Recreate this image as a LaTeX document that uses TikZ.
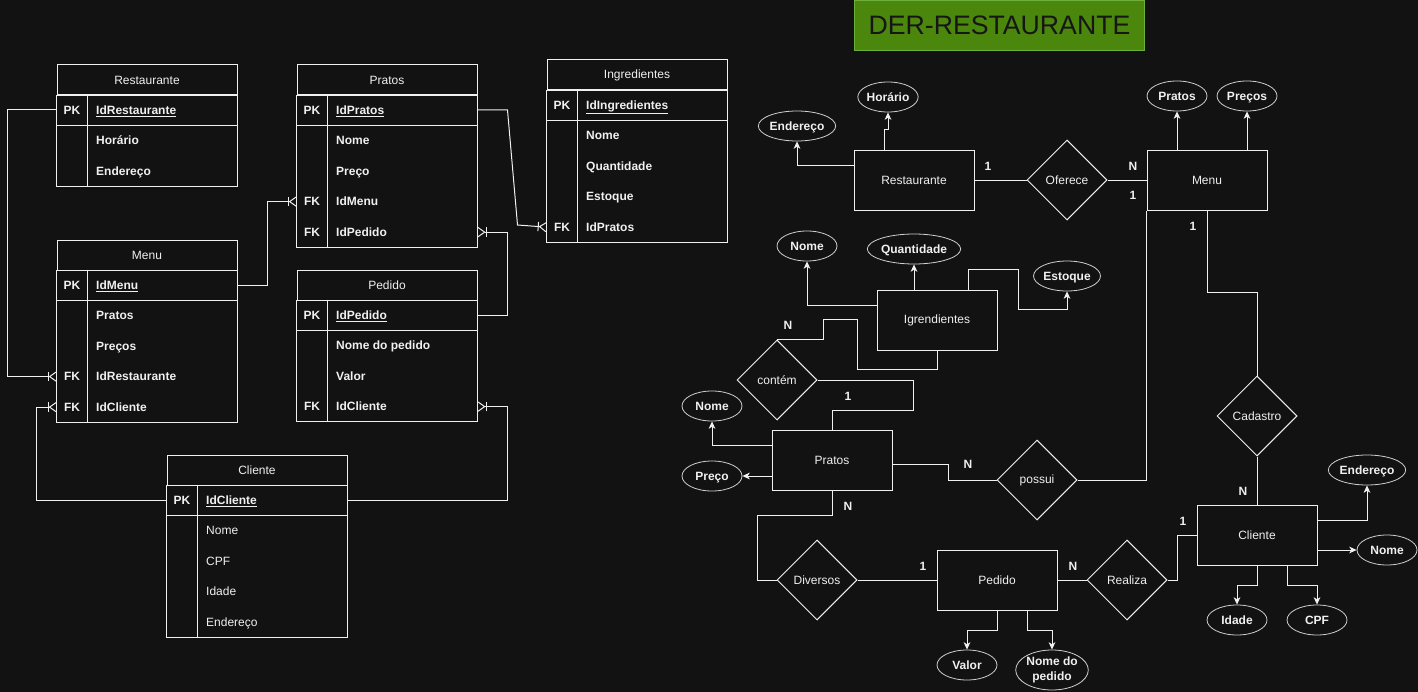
\documentclass[tikz,border=0pt]{standalone}
\usepackage{fontspec}
\setmainfont{Liberation Sans}
\usetikzlibrary{positioning,shapes.geometric,arrows.meta}

\definecolor{fundo}{HTML}{121212}
\definecolor{linha}{HTML}{F0F0F0}
\definecolor{verde}{HTML}{4B860D}
\definecolor{verdeborda}{HTML}{6DAF3C}
\definecolor{escuro}{HTML}{161616}

\tikzset{
  borda/.style={draw=linha, line width=0.75pt},
  tabtitulo/.style={draw=linha, fill=fundo, text=linha, line width=0.75pt, minimum width=135pt, minimum height=22.5pt, inner sep=0pt},
  chave/.style={text=linha, font=\bfseries, minimum width=22.5pt, minimum height=22.5pt, inner sep=0pt, text height=1.6ex, text depth=.3ex},
  campo/.style={text=linha, font=\bfseries, inner sep=0pt, text height=1.6ex, text depth=.3ex},
  rel/.style={draw=linha, line width=0.75pt},
  umparamuitos/.style={-{Bar[width=7pt,sep=0pt] Straight Barb[reversed,length=5pt,width=7pt,sep=0pt]}},
  entidade/.style={draw=linha, fill=fundo, text=linha, line width=0.75pt, minimum width=90pt, minimum height=45pt, inner sep=0pt},
  relacao/.style={diamond, aspect=1, draw=linha, fill=fundo, text=linha, line width=0.75pt, minimum width=60pt, minimum height=60pt, inner sep=0pt},
  atributo/.style={ellipse, draw=linha!85!fundo, fill=fundo, text=linha, font=\bfseries, line width=0.6pt, minimum width=45pt, minimum height=22.5pt, inner sep=0pt, text height=1.6ex, text depth=.3ex},
  seta/.style={draw=linha, line width=0.75pt, -{Stealth[length=5.5pt,width=5pt,inset=1.5pt]}},
  card/.style={text=linha, font=\bfseries, inner sep=0pt}
}

\begin{document}
\fontsize{9}{11}\selectfont
\begin{tikzpicture}[x=0.75pt, y=-0.75pt]
\useasboundingbox (0,0) rectangle (1418,692);
\fill[fundo] (0,0) rectangle (1418,692);

% Restaurante
\node[tabtitulo] (rest) at (147,80) {Restaurante};
\node[chave] (rest-k1) at (72,110) {PK};
\node[chave, below=0pt of rest-k1] (rest-k2) {};
\node[chave, below=0pt of rest-k2] (rest-k3) {};
\node[campo, right=6.5pt of rest-k1] (rest-c1) {\underline{IdRestaurante}};
\node[campo, right=6.5pt of rest-k2] (rest-c2) {Horário};
\node[campo, right=6.5pt of rest-k3] (rest-c3) {Endereço};
\draw[borda] (rest.south west) rectangle (rest-k3.south -| rest.east);
\draw[borda] (rest-k1.south west) -- (rest-k1.south -| rest.east);
\draw[borda] (rest-k1.north east) -- (rest-k3.south east);

% Menu
\node[tabtitulo] (menu) at (147,255) {Menu};
\node[chave] (menu-k1) at (72,285) {PK};
\node[chave, below=0pt of menu-k1] (menu-k2) {};
\node[chave, below=0pt of menu-k2] (menu-k3) {};
\node[chave, below=0pt of menu-k3] (menu-k4) {FK};
\node[chave, below=0pt of menu-k4] (menu-k5) {FK};
\node[campo, right=6.5pt of menu-k1] (menu-c1) {\underline{IdMenu}};
\node[campo, right=6.5pt of menu-k2] (menu-c2) {Pratos};
\node[campo, right=6.5pt of menu-k3] (menu-c3) {Preços};
\node[campo, right=6.5pt of menu-k4] (menu-c4) {IdRestaurante};
\node[campo, right=6.5pt of menu-k5] (menu-c5) {IdCliente};
\draw[borda] (menu.south west) rectangle (menu-k5.south -| menu.east);
\draw[borda] (menu-k1.south west) -- (menu-k1.south -| menu.east);
\draw[borda] (menu-k1.north east) -- (menu-k5.south east);

% Pratos
\node[tabtitulo] (prat) at (387,80) {Pratos};
\node[chave] (prat-k1) at (312,110) {PK};
\node[chave, below=0pt of prat-k1] (prat-k2) {};
\node[chave, below=0pt of prat-k2] (prat-k3) {};
\node[chave, below=0pt of prat-k3] (prat-k4) {FK};
\node[chave, below=0pt of prat-k4] (prat-k5) {FK};
\node[campo, right=6.5pt of prat-k1] (prat-c1) {\underline{IdPratos}};
\node[campo, right=6.5pt of prat-k2] (prat-c2) {Nome};
\node[campo, right=6.5pt of prat-k3] (prat-c3) {Preço};
\node[campo, right=6.5pt of prat-k4] (prat-c4) {IdMenu};
\node[campo, right=6.5pt of prat-k5] (prat-c5) {IdPedido};
\draw[borda] (prat.south west) rectangle (prat-k5.south -| prat.east);
\draw[borda] (prat-k1.south west) -- (prat-k1.south -| prat.east);
\draw[borda] (prat-k1.north east) -- (prat-k5.south east);

% Pedido
\node[tabtitulo] (pedi) at (387,285) {Pedido};
\node[chave] (pedi-k1) at (312,315) {PK};
\node[chave, below=0pt of pedi-k1] (pedi-k2) {};
\node[chave, below=0pt of pedi-k2] (pedi-k3) {};
\node[chave, below=0pt of pedi-k3] (pedi-k4) {FK};
\node[campo, right=6.5pt of pedi-k1] (pedi-c1) {\underline{IdPedido}};
\node[campo, right=6.5pt of pedi-k2] (pedi-c2) {Nome do pedido};
\node[campo, right=6.5pt of pedi-k3] (pedi-c3) {Valor};
\node[campo, right=6.5pt of pedi-k4] (pedi-c4) {IdCliente};
\draw[borda] (pedi.south west) rectangle (pedi-k4.south -| pedi.east);
\draw[borda] (pedi-k1.south west) -- (pedi-k1.south -| pedi.east);
\draw[borda] (pedi-k1.north east) -- (pedi-k4.south east);

% Ingredientes
\node[tabtitulo] (ingr) at (637,75) {Ingredientes};
\node[chave] (ingr-k1) at (562,105) {PK};
\node[chave, below=0pt of ingr-k1] (ingr-k2) {};
\node[chave, below=0pt of ingr-k2] (ingr-k3) {};
\node[chave, below=0pt of ingr-k3] (ingr-k4) {};
\node[chave, below=0pt of ingr-k4] (ingr-k5) {FK};
\node[campo, right=6.5pt of ingr-k1] (ingr-c1) {\underline{IdIngredientes}};
\node[campo, right=6.5pt of ingr-k2] (ingr-c2) {Nome};
\node[campo, right=6.5pt of ingr-k3] (ingr-c3) {Quantidade};
\node[campo, right=6.5pt of ingr-k4] (ingr-c4) {Estoque};
\node[campo, right=6.5pt of ingr-k5] (ingr-c5) {IdPratos};
\draw[borda] (ingr.south west) rectangle (ingr-k5.south -| ingr.east);
\draw[borda] (ingr-k1.south west) -- (ingr-k1.south -| ingr.east);
\draw[borda] (ingr-k1.north east) -- (ingr-k5.south east);

% Cliente
\node[tabtitulo] (clie) at (257,470) {Cliente};
\node[chave] (clie-k1) at (182,500) {PK};
\node[chave, below=0pt of clie-k1] (clie-k2) {};
\node[chave, below=0pt of clie-k2] (clie-k3) {};
\node[chave, below=0pt of clie-k3] (clie-k4) {};
\node[chave, below=0pt of clie-k4] (clie-k5) {};
\node[campo, right=6.5pt of clie-k1] (clie-c1) {\underline{IdCliente}};
\node[campo, right=6.5pt of clie-k2, font=\mdseries] (clie-c2) {Nome};
\node[campo, right=6.5pt of clie-k3, font=\mdseries] (clie-c3) {CPF};
\node[campo, right=6.5pt of clie-k4, font=\mdseries] (clie-c4) {Idade};
\node[campo, right=6.5pt of clie-k5, font=\mdseries] (clie-c5) {Endereço};
\draw[borda] (clie.south west) rectangle (clie-k5.south -| clie.east);
\draw[borda] (clie-k1.south west) -- (clie-k1.south -| clie.east);
\draw[borda] (clie-k1.north east) -- (clie-k5.south east);

% Ligacoes das tabelas
\draw[rel, umparamuitos] (rest-k1.west) -- ++(-49,0) |- (menu-k4.west);
\draw[rel, umparamuitos] (clie-k1.west) -- ++(-130,0) |- (menu-k5.west);
\draw[rel, umparamuitos] (menu-k1 -| menu.east) -- ++(30,0) |- (prat-k4.west);
\draw[rel, umparamuitos] (prat-k1 -| prat.east) -- ++(30,0) -- ++(10,115) -- (ingr-k5.west);
\draw[rel, umparamuitos] (pedi-k1 -| pedi.east) -- ++(30,0) |- (prat-k5 -| prat.east);
\draw[rel, umparamuitos] (clie-k1 -| clie.east) -- ++(160,0) |- (pedi-k4 -| pedi.east);

% Titulo
\node[draw=verdeborda, fill=verde, text=escuro, line width=0.75pt, minimum width=218pt, minimum height=38pt, font=\fontsize{20}{24}\selectfont] (titulo) at (999.5,25.5) {DER-RESTAURANTE};

% Entidades
\node[entidade] (er-rest) at (914,180) {Restaurante};
\node[entidade] (er-menu) at (1207,180) {Menu};
\node[entidade] (er-ingr) at (937,320) {Igrendientes};
\node[entidade] (er-prat) at (832,460) {Pratos};
\node[entidade] (er-pedi) at (997,580) {Pedido};
\node[entidade] (er-clie) at (1257,535) {Cliente};

% Relacionamentos
\node[relacao] (oferece) at (1067,180) {Oferece};
\node[relacao] (contem) at (777,380) {contém};
\node[relacao] (possui) at (1037,480) {possui};
\node[relacao] (cadastro) at (1257,416) {Cadastro};
\node[relacao] (diversos) at (817,580) {Diversos};
\node[relacao] (realiza) at (1127,580) {Realiza};

% Atributos
\node[atributo] (at-rest-end) at (797,126) {Endereço};
\node[atributo] (at-rest-hor) at (888,97) {Horário};
\node[atributo] (at-menu-pra) at (1177,96) {Pratos};
\node[atributo] (at-menu-pre) at (1247,96) {Preços};
\node[atributo] (at-ingr-nom) at (807,246) {Nome};
\node[atributo, minimum width=54pt] (at-ingr-qtd) at (914,249) {Quantidade};
\node[atributo] (at-ingr-est) at (1067,276) {Estoque};
\node[atributo] (at-prat-nom) at (712,406) {Nome};
\node[atributo] (at-prat-pre) at (712,476) {Preço};
\node[atributo] (at-pedi-val) at (967,665) {Valor};
\node[atributo, text height=, text depth=, minimum height=30pt, align=center] (at-pedi-nom) at (1052,670) {Nome do\\pedido};
\node[atributo] (at-clie-end) at (1367,470) {Endereço};
\node[atributo] (at-clie-nom) at (1387,550) {Nome};
\node[atributo] (at-clie-ida) at (1237,620) {Idade};
\node[atributo] (at-clie-cpf) at (1317,620) {CPF};

% Ligacoes do DER
\draw[rel] (er-rest.east) -- (oferece.west);
\draw[rel] (oferece.east) -- (er-menu.west);
\draw[rel] (er-menu.south) -- ++(0,82) -| (cadastro.north);
\draw[rel] (cadastro.south) -- (er-clie.north);
\draw[rel] (possui.east) -| (er-menu.south west);
\draw[rel] ([yshift=-3pt]er-prat.east) -- ++(56,0) |- (possui.west);
\draw[rel] (contem.north) -- ++(46,0) -- ++(0,-20) -- ++(34,0) -- ++(0,50) -| (er-ingr.south);
\draw[rel] (contem.east) -- ++(96,0) -- ++(0,30) -| (er-prat.north);
\draw[rel] (er-prat.south) -- ++(0,25) -- ++(-75,0) |- (diversos.west);
\draw[rel] (diversos.east) -- (er-pedi.west);
\draw[rel] (er-pedi.east) -- (realiza.west);
\draw[rel] (realiza.east) -- ++(10,0) |- (er-clie.west);

% Setas dos atributos
\draw[seta] ([yshift=11.25pt]er-rest.west) -| (at-rest-end.south);
\draw[seta] ([xshift=-22.5pt]er-rest.north) -- ++(0,-20) -| (at-rest-hor.south);
\draw[seta] ([xshift=-22.5pt]er-menu.north) -- (at-menu-pra.south);
\draw[seta] ([xshift=30pt]er-menu.north) -- (at-menu-pre.south);
\draw[seta] ([yshift=11.25pt]er-ingr.west) -| (at-ingr-nom.south);
\draw[seta] ([xshift=-17.25pt]er-ingr.north) -- (at-ingr-qtd.south);
\draw[seta] ([xshift=23.25pt]er-ingr.north) -- ++(0,-20) -- ++(50,0) -- ++(0,40) -| (at-ingr-est.south);
\draw[seta] ([yshift=11.25pt]er-prat.west) -| (at-prat-nom.south);
\draw[seta] ([yshift=-12pt]er-prat.west) -- (at-prat-pre.east);
\draw[seta] (er-pedi.south) -- ++(0,20) -| (at-pedi-val.north);
\draw[seta] ([xshift=22.5pt]er-pedi.south) -- ++(0,20) -| (at-pedi-nom.north);
\draw[seta] ([yshift=11.25pt]er-clie.east) -| (at-clie-end.south);
\draw[seta] ([yshift=-11.25pt]er-clie.east) -- (at-clie-nom.west);
\draw[seta] (er-clie.south) -- ++(0,20) -| (at-clie-ida.north);
\draw[seta] ([xshift=22.5pt]er-clie.south) -- ++(0,20) -| (at-clie-cpf.north);

% Cardinalidades
\node[card] at (988,166) {1};
\node[card] at (1133,166) {N};
\node[card] at (1133,195) {1};
\node[card] at (1193,226) {1};
\node[card] at (1243,491) {N};
\node[card] at (1183,521) {1};
\node[card] at (1073,566) {N};
\node[card] at (923,566) {1};
\node[card] at (848,506) {N};
\node[card] at (968,464) {N};
\node[card] at (848,396) {1};
\node[card] at (788,325) {N};
\end{tikzpicture}
\end{document}
